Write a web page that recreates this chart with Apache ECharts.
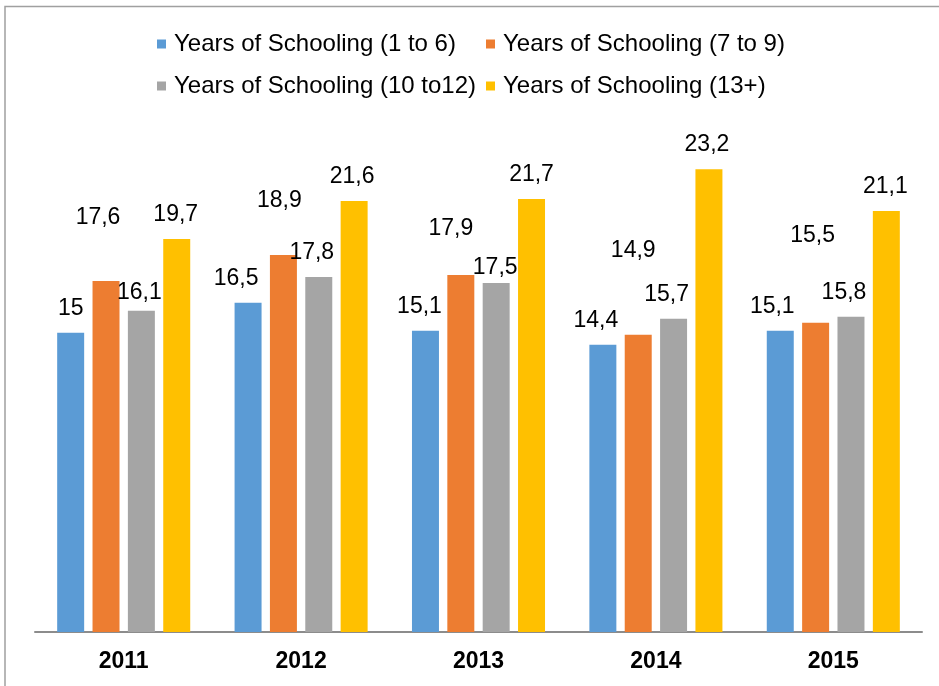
<!DOCTYPE html>
<html>
<head>
<meta charset="utf-8">
<script src="https://cdn.jsdelivr.net/npm/echarts@6/dist/echarts.min.js"></script>
<style>
html,body{margin:0;padding:0;background:#fff;}
#chart{width:939px;height:686px;}
</style>
</head>
<body>
<div id="chart"></div>
<script>
const categories = ['2011', '2012', '2013', '2014', '2015'];
const seriesNames = ['Years of Schooling (1 to 6)', 'Years of Schooling (7 to 9)', 'Years of Schooling (10 to12)', 'Years of Schooling (13+)'];
const school1to6 = [15, 16.5, 15.1, 14.4, 15.1];
const school7to9 = [17.6, 18.9, 17.9, 14.9, 15.5];
const school10to12 = [16.1, 17.8, 17.5, 15.7, 15.8];
const school13plus = [19.7, 21.6, 21.7, 23.2, 21.1];

const colors = ['#5B9BD5', '#ED7D31', '#A5A5A5', '#FFC000'];
// label nudges (style only), [dx, dy] per bar
const labelNudge = [
  [[0,0],[-12,0],[-6,0],[-7,0],[-8,0]],
  [[-8,-39],[-4,-30],[-10,-22],[-5,-60],[-3,-63]],
  [[-2,6],[-7,0],[-1,9],[-7,0],[-7,0]],
  [[-1,0],[-2,0],[0,0],[-2,0],[-1,0]]
];
const values = [school1to6, school7to9, school10to12, school13plus];
const FONT = 'Liberation Sans, Arial, sans-serif';

const series = values.map((arr, si) => ({
  name: seriesNames[si],
  type: 'bar',
  barGap: '31%',
  barCategoryGap: '25%',
  itemStyle: { color: colors[si] },
  label: {
    show: true,
    position: 'top',
    distance: 13,
    fontSize: 23,
    fontFamily: FONT,
    color: '#000',
    formatter: p => String(p.value).replace('.', ',')
  },
  data: arr.map((v, i) => ({ value: v, label: { offset: labelNudge[si][i] } }))
}));

function legendAt(name, left, top) {
  return {
    data: [name],
    left: left, top: top,
    icon: 'rect',
    itemWidth: 9, itemHeight: 9,
    itemGap: 0,
    padding: 0,
    textStyle: { fontSize: 24, fontFamily: FONT, color: '#000', padding: [0,0,0,3] },
    selectedMode: false
  };
}

const chart = echarts.init(document.getElementById('chart'), null, { renderer: 'canvas' });
chart.setOption({
  animation: false,
  backgroundColor: '#fff',
  color: colors,
  graphic: [{
    type: 'rect',
    shape: { x: 5, y: 6.5, width: 1000, height: 1000 },
    style: { fill: 'none', stroke: '#a0a0a0', lineWidth: 1.5 },
    silent: true
  }],
  legend: [
    legendAt(seriesNames[0], 157, 32),
    legendAt(seriesNames[1], 486, 32),
    legendAt(seriesNames[2], 157, 74),
    legendAt(seriesNames[3], 486, 74)
  ],
  grid: { left: 35, right: 17, bottom: 54, top: 133.25, containLabel: false },
  xAxis: {
    type: 'category',
    data: categories,
    axisTick: { show: false },
    axisLine: { lineStyle: { color: '#8c8c8c', width: 2 } },
    axisLabel: { fontSize: 23, fontWeight: 'bold', fontFamily: FONT, color: '#000', margin: 18 }
  },
  yAxis: {
    type: 'value',
    min: 0, max: 25,
    show: false,
    splitLine: { show: false }
  },
  series: series
});
</script>
</body>
</html>
